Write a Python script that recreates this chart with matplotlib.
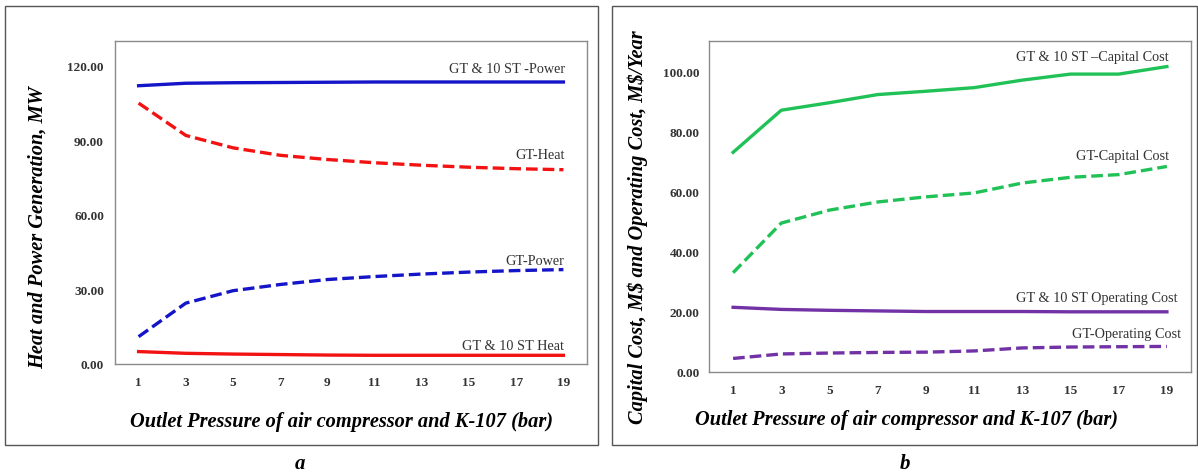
import matplotlib
matplotlib.use("Agg")
import matplotlib.pyplot as plt
from matplotlib.patches import Rectangle

plt.rcParams['font.family'] = ['Liberation Serif', 'DejaVu Serif']

pressure = ["1", "3", "5", "7", "9", "11", "13", "15", "17", "19"]

gt10_power = [112.0, 113.0, 113.2, 113.3, 113.4, 113.5, 113.5, 113.5, 113.5, 113.5]
gt_heat = [105.0, 92.0, 87.0, 84.0, 82.3, 81.0, 80.0, 79.2, 78.6, 78.2]
gt_power = [11.0, 24.5, 29.5, 32.0, 34.0, 35.2, 36.2, 37.0, 37.6, 38.0]
gt10_heat = [5.0, 4.3, 4.0, 3.8, 3.6, 3.5, 3.5, 3.5, 3.5, 3.5]

gt10_capital = [73.0, 87.0, 89.5, 92.2, 93.3, 94.5, 97.0, 99.0, 99.0, 101.5]
gt_capital = [33.0, 49.5, 53.8, 56.5, 58.2, 59.5, 62.8, 64.7, 65.6, 68.3]
gt10_operating = [21.5, 20.8, 20.5, 20.3, 20.1, 20.1, 20.1, 20.0, 20.0, 20.0]
gt_operating = [4.5, 6.0, 6.3, 6.5, 6.6, 7.0, 8.0, 8.3, 8.4, 8.5]

BLUE = "#1414c8"
RED = "#f21212"
GREEN = "#20c257"
PURPLE = "#7232a6"
DASH = (3.5, 1.5)
LW = 2.4

fig = plt.figure(figsize=(11.98, 4.77), dpi=100)

def px_rect(x0, y0, x1, y1):
    W, H = 1198, 477
    return [x0 / W, 1 - y1 / H, (x1 - x0) / W, (y1 - y0) / H]

# outer frames
for (x0, y0, x1, y1) in [(5, 7, 598, 446), (612, 7, 1197, 446)]:
    l, b, w, h = px_rect(x0, y0, x1, y1)
    fig.add_artist(Rectangle((l, b), w, h, transform=fig.transFigure,
                             fill=False, edgecolor="#555555", lw=1.0))

ax1 = fig.add_axes(px_rect(115, 42, 587, 365))
ax2 = fig.add_axes(px_rect(709, 42, 1191, 373))

xi = list(range(len(pressure)))

def style(ax, ylim, yticks, ypad, xpad):
    ax.set_xlim(-0.5, len(pressure) - 0.5)
    ax.set_ylim(*ylim)
    ax.set_xticks(xi)
    ax.set_xticklabels(pressure)
    ax.set_yticks(yticks)
    ax.set_yticklabels([f"{v:.2f}" for v in yticks])
    ax.tick_params(axis='both', length=0, labelsize=9.5, colors="#333333")
    ax.tick_params(axis='y', pad=ypad)
    ax.tick_params(axis='x', pad=xpad)
    for lab in ax.get_xticklabels() + ax.get_yticklabels():
        lab.set_fontweight('bold')
    for s in ax.spines.values():
        s.set_color("#8a8a8a")
        s.set_linewidth(1.0)

LABEL_KW = dict(fontsize=14.7, fontweight='bold', fontstyle='italic')
tkw = dict(ha='right', va='center', fontsize=10.3, color="#333333")

# Panel a
ax1.plot(xi, gt10_power, color=BLUE, lw=LW)
ax1.plot(xi, gt_heat, color=RED, lw=LW, dashes=DASH)
ax1.plot(xi, gt_power, color=BLUE, lw=LW, dashes=DASH)
ax1.plot(xi, gt10_heat, color=RED, lw=LW)
style(ax1, (0, 130), [0, 30, 60, 90, 120], 8, 8.5)

ax1.text(9.03, 118.9, "GT & 10 ST -Power", **tkw)
ax1.text(9.03, 84.3, "GT-Heat", **tkw)
ax1.text(9.02, 41.8, "GT-Power", **tkw)
ax1.text(9.02, 7.6, "GT & 10 ST Heat", **tkw)
ax1.set_xlabel("Outlet Pressure of air compressor and K-107 (bar)", **LABEL_KW)
ax1.set_ylabel("Heat and Power Generation, MW", **LABEL_KW)
ax1.xaxis.set_label_coords(0.479, -0.146)
ax1.yaxis.set_label_coords(-0.142, 0.427)

# Panel b
ax2.plot(xi, gt10_capital, color=GREEN, lw=LW)
ax2.plot(xi, gt_capital, color=GREEN, lw=LW, dashes=DASH)
ax2.plot(xi, gt10_operating, color=PURPLE, lw=LW)
ax2.plot(xi, gt_operating, color=PURPLE, lw=LW, dashes=DASH)
style(ax2, (0, 110), [0, 20, 40, 60, 80, 100], 7, 8.5)

ax2.text(9.04, 105.0, "GT & 10 ST \u2013Capital Cost", **tkw)
ax2.text(9.04, 71.9, "GT-Capital Cost", **tkw)
ax2.text(9.21, 24.8, "GT & 10 ST Operating Cost", **tkw)
ax2.text(9.29, 12.9, "GT-Operating Cost", **tkw)
ax2.set_xlabel("Outlet Pressure of air compressor and K-107 (bar)", **LABEL_KW)
ax2.set_ylabel("Capital Cost, M\\$ and Operating Cost, M\\$/Year", **LABEL_KW)
ax2.xaxis.set_label_coords(0.41, -0.112)
ax2.yaxis.set_label_coords(-0.127, 0.44)

fig.text(300 / 1198, 1 - 464 / 477, "a", fontsize=15, fontweight='bold',
         fontstyle='italic', ha='center', va='center')
fig.text(905 / 1198, 1 - 464 / 477, "b", fontsize=15, fontweight='bold',
         fontstyle='italic', ha='center', va='center')

fig.savefig("out.png", dpi=100)
